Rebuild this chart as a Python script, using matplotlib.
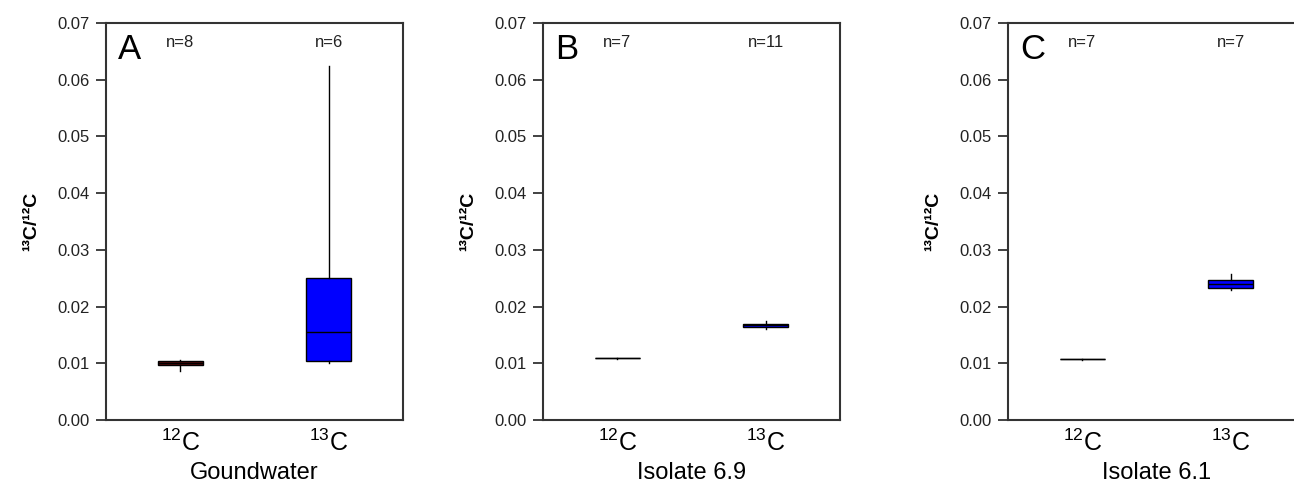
import matplotlib.pyplot as plt

plt.rcParams['font.family'] = ['Liberation Sans', 'DejaVu Sans']
plt.rcParams['mathtext.fontset'] = 'custom'
plt.rcParams['mathtext.rm'] = 'Liberation Sans'
plt.rcParams['mathtext.it'] = 'Liberation Sans:italic'
plt.rcParams['mathtext.bf'] = 'Liberation Sans:bold'

# box statistics (whislo, q1, med, q3, whishi)
groups = ['$\\mathrm{^{12}C}$', '$\\mathrm{^{13}C}$']
panel_letters = ['A', 'B', 'C']
panel_names = ['Goundwater', 'Isolate 6.9', 'Isolate 6.1']
n_counts = [[8, 6], [7, 11], [7, 7]]

whislo = [[0.0087, 0.0101], [0.0108, 0.0160], [0.0106, 0.0229]]
q1 = [[0.0097, 0.0104], [0.0109, 0.0164], [0.0107, 0.0232]]
med = [[0.0100, 0.0155], [0.0109, 0.0167], [0.0107, 0.0239]]
q3 = [[0.0104, 0.0250], [0.0110, 0.0170], [0.0108, 0.0247]]
whishi = [[0.0105, 0.0624], [0.0110, 0.0175], [0.0108, 0.0257]]

box_colors = ['#5c0a0a', '#0000ff']
yticks = [0.00, 0.01, 0.02, 0.03, 0.04, 0.05, 0.06, 0.07]

W, H = 1294, 490
fig = plt.figure(figsize=(W / 100, H / 100), dpi=100)
lefts = [106, 543, 1008]

for i in range(3):
    ax = fig.add_axes([lefts[i] / W, (H - 420) / H, 297 / W, 397 / H])
    stats = []
    for j in range(2):
        stats.append({'whislo': whislo[i][j], 'q1': q1[i][j], 'med': med[i][j],
                      'q3': q3[i][j], 'whishi': whishi[i][j], 'fliers': []})
    bp = ax.bxp(stats, positions=[1, 2], widths=0.3, patch_artist=True,
                showcaps=False,
                boxprops=dict(edgecolor='black', linewidth=1.0),
                medianprops=dict(color='black', linewidth=1.0),
                whiskerprops=dict(color='black', linewidth=1.0))
    for patch, c in zip(bp['boxes'], box_colors):
        patch.set_facecolor(c)

    ax.set_xlim(0.5, 2.5)
    ax.set_ylim(0, 0.07)
    ax.set_yticks(yticks)
    ax.set_yticklabels([f'{t:.2f}' for t in yticks], fontsize=12, color='#222222')
    ax.set_xticks([1, 2])
    ax.set_xticklabels(groups, fontsize=18)
    ax.tick_params(axis='x', length=0, pad=7)
    ax.tick_params(axis='y', direction='out', length=7, width=1.3, color='#333333', pad=5)
    for s in ax.spines.values():
        s.set_linewidth(1.5)
        s.set_color('#333333')
    ax.set_xlabel(panel_names[i], fontsize=17, labelpad=4)
    ax.set_ylabel('¹³C/¹²C', fontsize=14, fontweight='bold', labelpad=12)

    ax.text(0.04, 0.975, panel_letters[i], transform=ax.transAxes,
            fontsize=25, va='top', ha='left')
    for j in range(2):
        ax.text(j + 1, 0.0666, f'n={n_counts[i][j]}', fontsize=12,
                ha='center', va='center', color='#222222')

fig.savefig('out.png', dpi=100)
